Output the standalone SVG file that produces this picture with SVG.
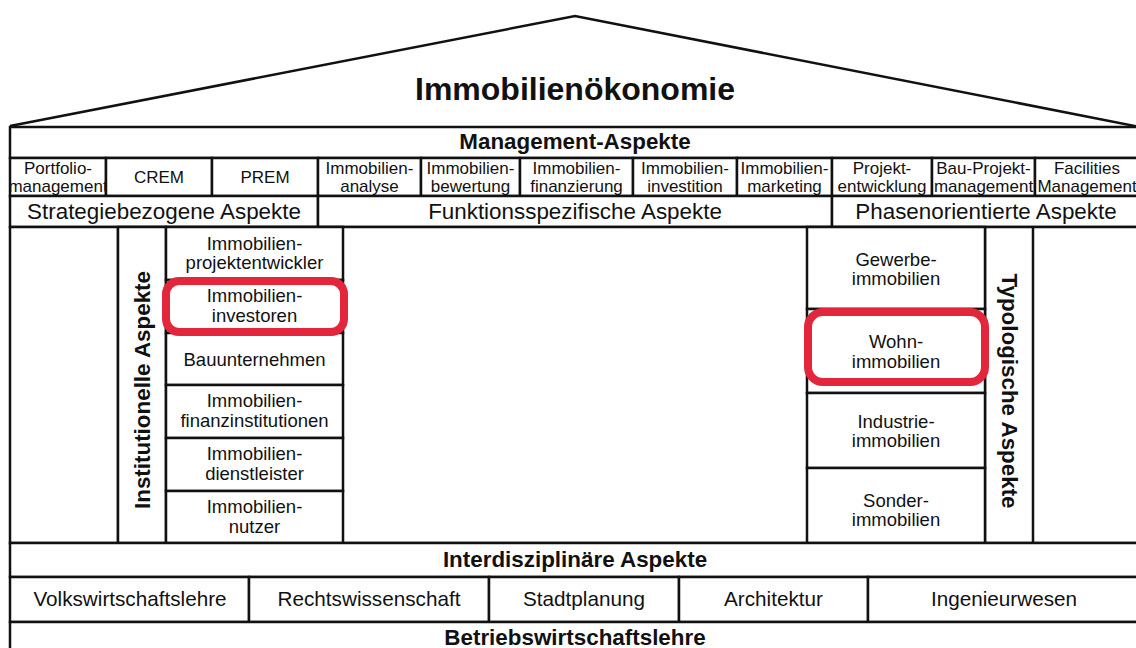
<svg xmlns="http://www.w3.org/2000/svg" width="1136" height="648" viewBox="0 0 1136 648">
<style>
.ln{stroke:#111;stroke-width:2.5;fill:none}
.bx{stroke:#111;stroke-width:2.5;fill:#fff}
text{font-family:"Liberation Sans",Arial,sans-serif;fill:#111;text-anchor:middle}
.t{font-size:32px;font-weight:bold}
.h{font-size:22.4px;font-weight:bold}
.a{font-size:22.4px}
.c{font-size:17px}
.e{font-size:18.5px}
.d{font-size:20.7px}
.hl{stroke:#e3263c;stroke-width:8;fill:none}
</style>
<rect width="1136" height="648" fill="#fff"/>
<g id="roof">
<polyline class="ln" points="10,126 575,16 1140,127"/>
<text class="t" x="575" y="100">Immobilienökonomie</text>
</g>
<g id="management">
<rect class="bx" x="10" y="127" width="1130" height="31"/>
<text class="h" x="575" y="149">Management-Aspekte</text>
</g>
<g id="mgmt-cells">
<g id="portfolio"><rect class="bx" x="10" y="158" width="96" height="38"/><text class="c" x="58" y="174">Portfolio-</text><text class="c" x="58" y="192">management</text></g>
<g id="crem"><rect class="bx" x="106" y="158" width="106" height="38"/><text class="c" x="159" y="183">CREM</text></g>
<g id="prem"><rect class="bx" x="212" y="158" width="106" height="38"/><text class="c" x="265" y="183">PREM</text></g>
<g id="analyse"><rect class="bx" x="318" y="158" width="103" height="38"/><text class="c" x="369.5" y="174">Immobilien-</text><text class="c" x="369.5" y="192">analyse</text></g>
<g id="bewertung"><rect class="bx" x="421" y="158" width="99" height="38"/><text class="c" x="470.5" y="174">Immobilien-</text><text class="c" x="470.5" y="192">bewertung</text></g>
<g id="finanzierung"><rect class="bx" x="520" y="158" width="113" height="38"/><text class="c" x="576.5" y="174">Immobilien-</text><text class="c" x="576.5" y="192">finanzierung</text></g>
<g id="investition"><rect class="bx" x="633" y="158" width="104" height="38"/><text class="c" x="685" y="174">Immobilien-</text><text class="c" x="685" y="192">investition</text></g>
<g id="marketing"><rect class="bx" x="737" y="158" width="95" height="38"/><text class="c" x="784.5" y="174">Immobilien-</text><text class="c" x="784.5" y="192">marketing</text></g>
<g id="projektentwicklung"><rect class="bx" x="832" y="158" width="100" height="38"/><text class="c" x="882" y="174">Projekt-</text><text class="c" x="882" y="192">entwicklung</text></g>
<g id="bauprojekt"><rect class="bx" x="932" y="158" width="103" height="38"/><text class="c" x="983.5" y="174">Bau-Projekt-</text><text class="c" x="983.5" y="192">management</text></g>
<g id="facilities"><rect class="bx" x="1035" y="158" width="105" height="38"/><text class="c" x="1087" y="174">Facilities</text><text class="c" x="1087" y="192">Management</text></g>
</g>
<g id="aspects">
<g id="strategie"><rect class="bx" x="10" y="196" width="308" height="31"/><text class="a" x="164" y="219">Strategiebezogene Aspekte</text></g>
<g id="funktion"><rect class="bx" x="318" y="196" width="514" height="31"/><text class="a" x="575" y="219">Funktionsspezifische Aspekte</text></g>
<g id="phasen"><rect class="bx" x="832" y="196" width="308" height="31"/><text class="a" x="986" y="219">Phasenorientierte Aspekte</text></g>
</g>
<g id="middle">
<rect class="bx" x="10" y="227" width="1130" height="316"/>
<line class="ln" x1="118" y1="227" x2="118" y2="543"/>
<line class="ln" x1="985" y1="227" x2="985" y2="543"/>
<line class="ln" x1="1033" y1="227" x2="1033" y2="543"/>
</g>
<g id="institutionelle">
<rect class="bx" x="118" y="227" width="48" height="316"/>
<text class="h" transform="translate(150,390) rotate(-90)">Institutionelle Aspekte</text>
</g>
<g id="institutions">
<g id="projektentwickler"><rect class="bx" x="166" y="227" width="177" height="53"/><text class="e" x="254.5" y="250">Immobilien-</text><text class="e" x="254.5" y="269">projektentwickler</text></g>
<g id="investoren"><rect class="bx" x="166" y="280" width="177" height="53"/><text class="e" x="254.5" y="302">Immobilien-</text><text class="e" x="254.5" y="322">investoren</text></g>
<g id="bauunternehmen"><rect class="bx" x="166" y="333" width="177" height="52"/><text class="e" x="254.5" y="366">Bauunternehmen</text></g>
<g id="finanzinstitutionen"><rect class="bx" x="166" y="385" width="177" height="53"/><text class="e" x="254.5" y="407">Immobilien-</text><text class="e" x="254.5" y="427">finanzinstitutionen</text></g>
<g id="dienstleister"><rect class="bx" x="166" y="438" width="177" height="53"/><text class="e" x="254.5" y="460">Immobilien-</text><text class="e" x="254.5" y="480">dienstleister</text></g>
<g id="nutzer"><rect class="bx" x="166" y="491" width="177" height="52"/><text class="e" x="254.5" y="513">Immobilien-</text><text class="e" x="254.5" y="533">nutzer</text></g>
</g>
<g id="types">
<g id="gewerbe"><rect class="bx" x="807" y="227" width="178" height="82"/><text class="e" x="896" y="266">Gewerbe-</text><text class="e" x="896" y="285">immobilien</text></g>
<g id="wohn"><rect class="bx" x="807" y="309" width="178" height="84"/><text class="e" x="896" y="348">Wohn-</text><text class="e" x="896" y="368">immobilien</text></g>
<g id="industrie"><rect class="bx" x="807" y="393" width="178" height="75"/><text class="e" x="896" y="428">Industrie-</text><text class="e" x="896" y="447">immobilien</text></g>
<g id="sonder"><rect class="bx" x="807" y="468" width="178" height="75"/><text class="e" x="896" y="507">Sonder-</text><text class="e" x="896" y="526">immobilien</text></g>
</g>
<g id="typologische">
<text class="h" transform="translate(1002,391) rotate(90)">Typologische Aspekte</text>
</g>
<g id="interdisziplinaer">
<rect class="bx" x="10" y="543" width="1130" height="34"/>
<text class="h" x="575" y="567">Interdisziplinäre Aspekte</text>
</g>
<g id="disciplines">
<g id="vwl"><rect class="bx" x="10" y="577" width="239" height="45"/><text class="d" x="130" y="606">Volkswirtschaftslehre</text></g>
<g id="recht"><rect class="bx" x="249" y="577" width="240" height="45"/><text class="d" x="369" y="606">Rechtswissenschaft</text></g>
<g id="stadt"><rect class="bx" x="489" y="577" width="190" height="45"/><text class="d" x="584" y="606">Stadtplanung</text></g>
<g id="architektur"><rect class="bx" x="679" y="577" width="189" height="45"/><text class="d" x="773.5" y="606">Architektur</text></g>
<g id="ingenieur"><rect class="bx" x="868" y="577" width="272" height="45"/><text class="d" x="1004" y="606">Ingenieurwesen</text></g>
</g>
<g id="bwl">
<rect class="bx" x="10" y="622" width="1130" height="40"/>
<text class="h" x="575" y="645">Betriebswirtschaftslehre</text>
</g>
<g id="highlights">
<rect class="hl" x="166" y="281" width="178" height="51" rx="13"/>
<rect class="hl" x="808" y="312" width="177" height="70" rx="15"/>
</g>
</svg>
